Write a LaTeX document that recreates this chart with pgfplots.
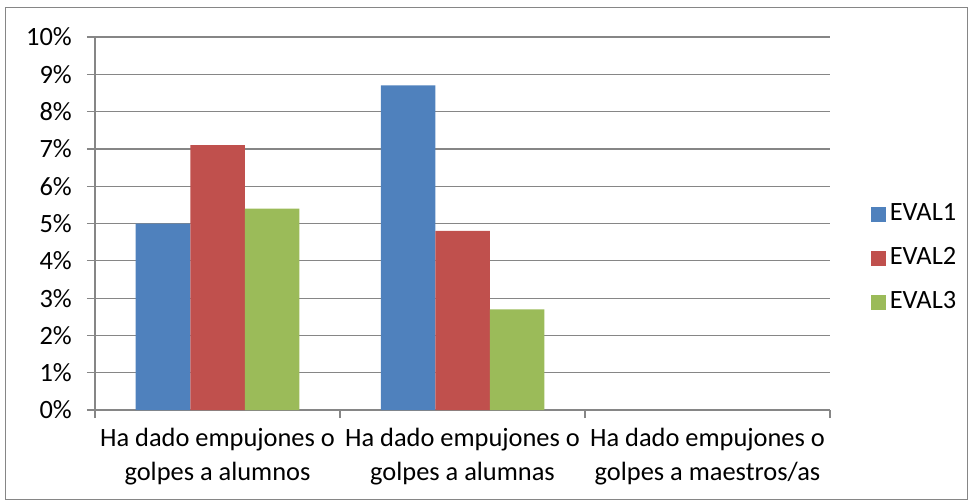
\documentclass[border=0pt]{standalone}
\usepackage{pgfplots}
\pgfplotsset{compat=1.18}
\usepackage{fontspec}
\setmainfont{Carlito}
\definecolor{c1}{HTML}{4F81BD}
\definecolor{c2}{HTML}{C0504D}
\definecolor{c3}{HTML}{9BBB59}
\definecolor{gridc}{HTML}{868686}
\begin{document}
\fontsize{13.2}{16}\selectfont
\begin{tikzpicture}
\useasboundingbox (0pt,0pt) rectangle (486.5pt,-251.5pt);
\draw[color=gridc, line width=0.5pt] (2.5pt,-3.5pt) rectangle (483.5pt,-249.5pt);
\begin{axis}[
  at={(47.5pt,-205pt)}, anchor=south west,
  scale only axis, width=367.5pt, height=186.5pt,
  xmin=-0.5, xmax=2.5, ymin=0, ymax=10,
  ytick={0,1,...,10},
  yticklabel={\pgfmathprintnumber{\tick}\%},
  /pgf/number format/assume math mode=true,
  xtick={-0.5,0.5,1.5,2.5},
  xticklabels={},
  extra x ticks={0,1,2},
  extra x tick labels={{Ha dado empujones o\\golpes a alumnos},{Ha dado empujones o\\golpes a alumnas},{Ha dado empujones o\\golpes a maestros/as}},
  extra x tick style={major tick length=0pt, tick style={draw=none}, xticklabel style={align=center, font=\fontsize{13.2}{17.2}\selectfont, yshift=-4.5pt}},
  yticklabel style={font=\fontsize{13.2}{16}\selectfont, xshift=-3pt},
  tick align=outside,
  ytick pos=left, xtick pos=left,
  major tick length=4pt,
  tick style={color=gridc, line width=0.6pt},
  ymajorgrids, grid style={color=gridc, line width=0.6pt},
  axis x line*=bottom, axis y line*=left,
  axis line style={color=gridc, line width=0.6pt, -},
  ybar, bar width=27.25pt,
  legend style={draw=none, at={(1.055,0.407)}, anchor=west, font=\fontsize{13.2}{16}\selectfont, row sep=7.5pt, inner sep=0pt},
  legend cell align=left,
  legend image code/.code={\path[#1] (0pt,-3.75pt) rectangle (7.5pt,3.75pt);},
]
\addplot[fill=c1, draw=none, bar shift=-27.25pt] coordinates {(0,5.0) (1,8.7)};
\addplot[fill=c2, draw=none, bar shift=0pt] coordinates {(0,7.1) (1,4.8)};
\addplot[fill=c3, draw=none, bar shift=27.25pt] coordinates {(0,5.4) (1,2.7)};
\legend{EVAL1,EVAL2,EVAL3}
\end{axis}
\end{tikzpicture}
\end{document}
